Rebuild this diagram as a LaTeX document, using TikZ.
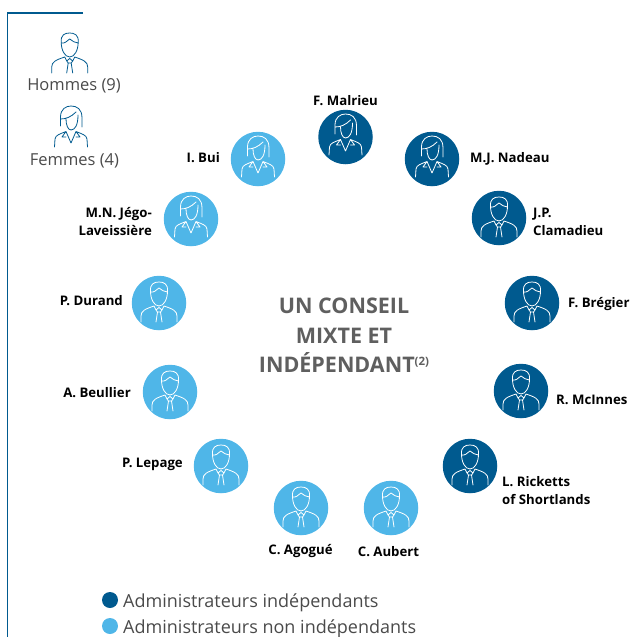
\documentclass[tikz,border=0pt]{standalone}
\usepackage{fontspec}
\setmainfont{Open Sans}
\definecolor{dk}{HTML}{005A8F}
\definecolor{lt}{HTML}{4FB6E8}
\definecolor{tx}{HTML}{4A4A4A}
\definecolor{hd}{HTML}{5F5F5F}
\tikzset{
  x=1pt,y=-1pt,
  indep/.style={circle,fill=dk,draw=none,minimum size=54.5pt,inner sep=0pt},
  nonindep/.style={circle,fill=lt,draw=none,minimum size=54.5pt,inner sep=0pt},
  who/.style={font=\fontsize{13.2}{18}\selectfont\bfseries,text=black,inner sep=0pt,align=left},
  leg/.style={font=\fontsize{18}{20}\selectfont,text=tx,inner sep=0pt,anchor=west},
  gender/.style={font=\fontsize{16.5}{20}\selectfont,text=tx,inner sep=0pt},
  homme/.pic={
    \draw[line width=.8pt,line cap=round,line join=round,pic actions]
      (-8.5,-12) .. controls (-9,-19) and (-5,-21) .. (0,-21) .. controls (5,-21) and (9,-19) .. (8.5,-12)
      .. controls (8.5,-4) and (5,3) .. (0,3) .. controls (-5,3) and (-8.5,-4) .. (-8.5,-12) -- cycle
      (-8.5,-11) .. controls (-5,-10) and (-3,-13) .. (0,-15) .. controls (3,-13) and (5,-11) .. (8.5,-11)
      (-18,19) -- (-18,13) .. controls (-18,8) and (-14,6) .. (-5,3)
      (18,19) -- (18,13) .. controls (18,8) and (14,6) .. (5,3)
      (-5,3) -- (-3,7) -- (0,4.5) -- (3,7) -- (5,3)
      (-1.5,9) -- (-3,19)
      (1.5,9) -- (3,19)
      (-3,7) -- (-1.5,9) -- (1.5,9) -- (3,7);
  },
  femme/.pic={
    \draw[line width=.8pt,line cap=round,line join=round,pic actions]
      (-10.5,-3) -- (-10.5,-12) .. controls (-10.5,-20) and (-5,-23) .. (0,-23) .. controls (6,-23) and (11,-20) .. (11,-11) -- (11,-2)
      (-10.5,-10) .. controls (-5,-10) and (0,-12) .. (5,-17)
      (-5,-10) .. controls (-5,-4) and (-3,1) .. (0,1) .. controls (4,1) and (7,-4) .. (7,-14)
      (-16.5,18) -- (-16,10) .. controls (-15.5,6) and (-11,5) .. (-5,2.5)
      (16.5,18) -- (16,10) .. controls (15.5,6) and (11,5) .. (5,2.5)
      (-5,2.5) -- (0,14) -- (5,2.5)
      (-5,2.5) -- (-9,8) -- (-5,8)
      (5,2.5) -- (9,8) -- (5,8);
  },
}
\begin{document}
\begin{tikzpicture}
\useasboundingbox (0,0) rectangle (630,637);
% frame
\coordinate (frameTR) at (83,13);
\coordinate (frameTL) at (7.5,13);
\coordinate (frameB) at (7.5,637);
\draw[dk,line width=1.1pt] (frameTR) -- (frameTL) -- (frameB);
% gender key
\coordinate (keyH) at (69.7,54);
\coordinate (keyF) at (71,129);
\pic[draw=dk] at (keyH) {homme};
\pic[draw=dk] at (keyF) {femme};
\node[gender] (lblH) at (74,86) {Hommes (9)};
\node[gender] (lblF) at (74.5,161) {Femmes (4)};
% circles
\node[indep] (malrieu) at (345.5,137) {};
\node[indep] (nadeau) at (432,159) {};
\node[indep] (clamadieu) at (499,218) {};
\node[indep] (bregier) at (532,303) {};
\node[indep] (mcinnes) at (521,391) {};
\node[indep] (ricketts) at (470,466) {};
\node[nonindep] (aubert) at (391,508) {};
\node[nonindep] (agogue) at (301,508) {};
\node[nonindep] (lepage) at (221,466) {};
\node[nonindep] (beullier) at (170,392) {};
\node[nonindep] (durand) at (159,303) {};
\node[nonindep] (jego) at (191,219) {};
\node[nonindep] (bui) at (258,159) {};
% icons
\foreach \n in {malrieu,nadeau,jego,bui} \pic[draw=white] at (\n) {femme};
\foreach \n in {clamadieu,bregier,mcinnes,ricketts,aubert,agogue,lepage,beullier,durand} \pic[draw=white] at (\n) {homme};
% names
\node[who,anchor=center] (tMalrieu) at (345.5,100.5) {F. Malrieu};
\node[who,anchor=west] (tNadeau) at (470,158.5) {M.J. Nadeau};
\node[who,anchor=west] (tClam) at (533,221.5) {J.P.\\Clamadieu};
\node[who,anchor=west] (tBreg) at (568,304.5) {F. Brégier};
\node[who,anchor=west] (tMc) at (556,399.5) {R. McInnes};
\node[who,anchor=west] (tRick) at (502,491) {L. Ricketts\\of Shortlands};
\node[who,anchor=center] (tAub) at (388.5,551.5) {C. Aubert};
\node[who,anchor=center] (tAgo) at (300.5,551.5) {C. Agogué};
\node[who,anchor=east] (tLep) at (183,464.5) {P. Lepage};
\node[who,anchor=east] (tBeu) at (131,392.5) {A. Beullier};
\node[who,anchor=east] (tDur) at (123,300.5) {P. Durand};
\node[who,anchor=east,align=right] (tJego) at (152,221.5) {M.N. Jégo-\\Laveissière};
\node[who,anchor=east] (tBui) at (220,157.5) {I. Bui};
% title
\node[font=\fontsize{21.5}{29.5}\selectfont\bfseries,text=hd,align=center,inner sep=0pt] (title) at (344,335.5)
  {UN CONSEIL\\MIXTE ET\\INDÉPENDANT\raisebox{.35em}{\fontsize{11.5}{11.5}\selectfont\bfseries(2)}};
% legend
\node[circle,fill=dk,minimum size=16pt,inner sep=0pt] (dotA) at (110,600) {};
\node[circle,fill=lt,minimum size=16pt,inner sep=0pt] (dotB) at (110,626) {};
\node[leg] (legA) at (123,603) {Administrateurs indépendants};
\node[leg] (legB) at (123,629) {Administrateurs non indépendants};
\end{tikzpicture}
\end{document}
